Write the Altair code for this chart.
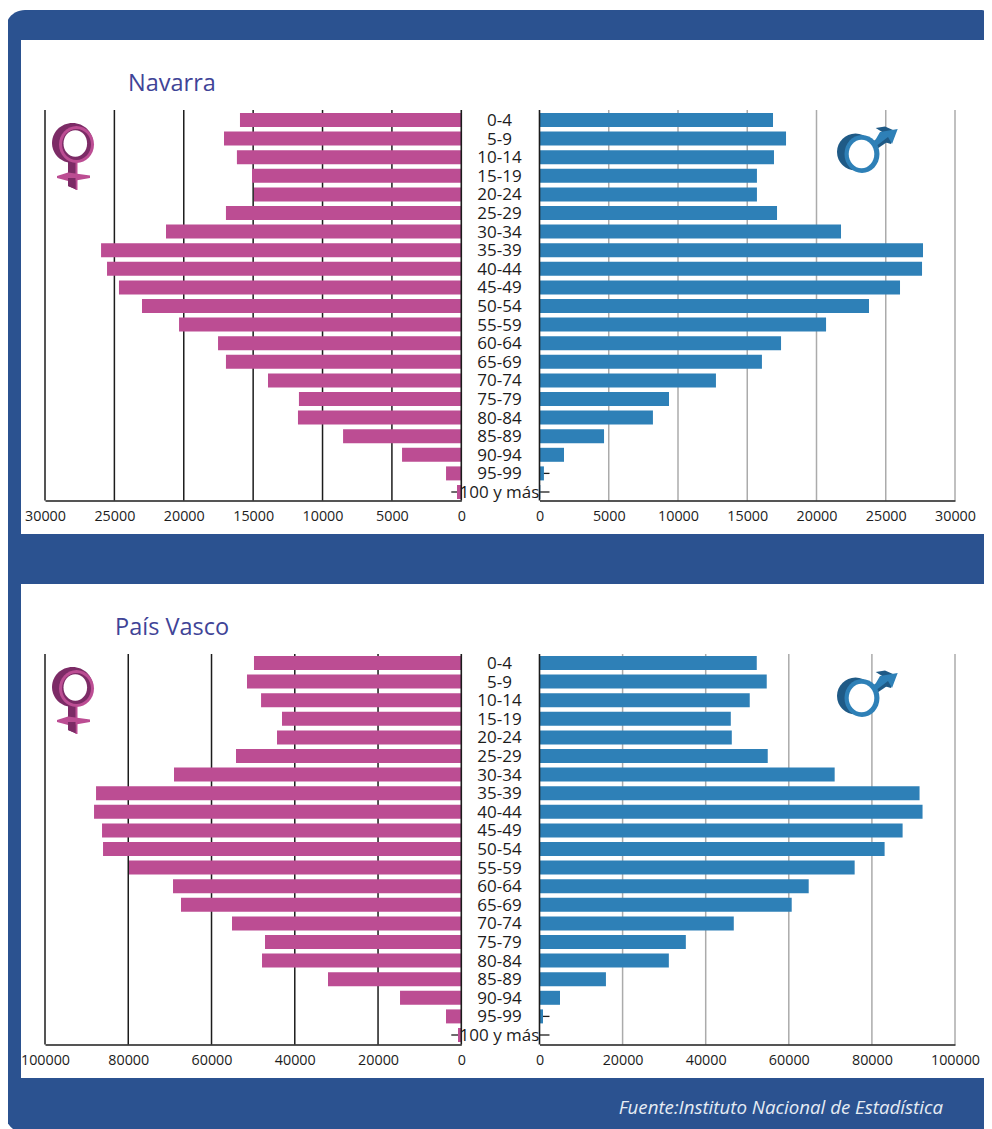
import altair as alt
import pandas as pd

ages = ["0-4","5-9","10-14","15-19","20-24","25-29","30-34","35-39","40-44","45-49","50-54",
        "55-59","60-64","65-69","70-74","75-79","80-84","85-89","90-94","95-99","100 y más"]
nav_mujeres = [15950,17100,16170,15080,14940,16960,21280,25960,25530,24670,23010,
               20340,17530,16960,13930,11700,11770,8520,4270,1100,310]
nav_hombres = [16860,17800,16930,15700,15700,17150,21770,27690,27620,26030,23790,
               20690,17440,16060,12740,9350,8190,4660,1770,320,60]
pv_mujeres = [49800,51480,48100,43070,44270,54120,69010,87740,88220,86300,86060,
              79820,69250,67330,55080,47150,47870,32020,14720,3680,790]
pv_hombres = [52290,54690,50600,46040,46280,54930,71040,91470,92190,87390,83060,
              75850,64790,60700,46760,35220,31130,15990,4930,840,120]
nav_ticks = [0,5000,10000,15000,20000,25000,30000]
pv_ticks = [0,20000,40000,60000,80000,100000]

OX, OY = 8, 8  # page margin
W, H = 976, 1121
FONT = "Open Sans"
BLUE, PINK, BAR, INK = "#2B5290", "#BC4D93", "#2E80B7", "#1c1c1c"
GRID_R = "#ababab"
PINK_D, BAR_D = "#7C2B66", "#1F5A86"
LX = (461.3 - OX, 45 - OX)
RX = (539.5 - OX, 955 - OX)


def deco_rect(x0, x1, y0, y1, color, radius=0):
    return alt.Chart().mark_rect(color=color, cornerRadius=radius, opacity=1).encode(
        x=alt.value(x0 - OX), x2=alt.value(x1 - OX), y=alt.value(y0 - OY), y2=alt.value(y1 - OY))


def ell(cx, cy, rx, ry):
    return f"M{cx-rx},{cy}a{rx},{ry} 0 1,0 {2*rx},0a{rx},{ry} 0 1,0 {-2*rx},0Z"


def shape(path, color, dy):
    # size 4 makes one path unit equal to one pixel
    return alt.Chart().mark_point(shape=path, filled=True, size=4, color=color, opacity=1, strokeWidth=0).encode(
        x=alt.value(-OX), y=alt.value(dy - OY))


def venus(dy):
    return [
        shape("M68,162L77,162L77,190L68,186Z", PINK_D, dy),
        shape("M57,176L68,172.5L90,175.5L90,178L70,181.5L57,178Z", PINK, dy),
        shape("M75.5,163L77.5,163L77.5,190L75.5,190Z", PINK, dy),
        shape("M68,178L75.5,178L75.5,189L68,186Z", PINK_D, dy),
        shape(ell(72.5, 143, 20.5, 20), PINK_D, dy),
        shape(ell(76.5, 144.5, 17.5, 18.5), PINK, dy),
        shape(ell(76.5, 144.5, 14.5, 15.5), PINK_D, dy),
        shape(ell(75.3, 143.5, 11.8, 13.2), "#ffffff", dy),
    ]


def mars(dy):
    return [
        shape("M869,144L886,133L890,140L874,151Z", BAR_D, dy),
        shape("M875.7,128L885,126.5L893,130L891,144L884,142L887,135Z", BAR_D, dy),
        shape("M880,132L897.7,129L892,144L888,137L875,147L873,144Z", BAR, dy),
        shape(ell(855.5, 152, 18.5, 18.5), BAR_D, dy),
        shape(ell(862, 154, 17.5, 19), BAR, dy),
        shape(ell(861.5, 154, 12.8, 14.3), "#ffffff", dy),
    ]


def panel(mujeres, hombres, ticks, y_top, y_axis, title, title_x, title_base):
    layers = []
    tmax = ticks[-1]
    yscale = alt.Scale(type="band", domain=ages, range=[y_top - OY, y_top + 390.6 - OY])
    ypos = alt.Y("edad:N", scale=yscale, axis=None, title=None)
    grid_y0, grid_y1 = y_axis - 390.5 - OY, y_axis - OY
    stub = tmax * 10 / 416
    for vals, rng, grid_col, col in (
        (mujeres, LX, INK, PINK),
        (hombres, RX, GRID_R, BAR),
    ):
        xscale = alt.Scale(domain=[0, tmax], range=list(rng), nice=False, zero=True)
        df = pd.DataFrame({"edad": ages, "poblacion": vals})
        tk = pd.DataFrame({"v": ticks})
        st = pd.DataFrame({"edad": ages, "a": [0] * len(ages), "b": [stub] * len(ages)})
        layers.append(alt.Chart(tk).transform_filter("datum.v > 0").mark_rule(color=grid_col, strokeWidth=1.5).encode(
            x=alt.X("v:Q", scale=xscale, axis=None, title=None),
            y=alt.value(grid_y0), y2=alt.value(grid_y1)))
        layers.append(alt.Chart(st).mark_rule(color=INK, strokeWidth=1.3).encode(
            x=alt.X("a:Q", scale=xscale, axis=None, title=None), x2="b:Q", y=ypos))
        layers.append(alt.Chart(df).mark_bar(color=col, size=14, opacity=1).encode(
            x=alt.X("poblacion:Q", scale=xscale, title=None, axis=alt.Axis(
                orient="bottom", offset=y_axis - OY - H, values=ticks, grid=False, ticks=False,
                domainColor=INK, domainWidth=1.6, labelFont=FONT, labelFontSize=14.3,
                labelColor=INK, labelPadding=9, labelOverlap=False, labelFlush=False,
                labelBound=False, format="d", zindex=1)),
            y=ypos))
        layers.append(alt.Chart(pd.DataFrame({"v": [0]})).mark_rule(color=INK, strokeWidth=1.6).encode(
            x=alt.X("v:Q", scale=xscale, axis=None, title=None),
            y=alt.value(grid_y0), y2=alt.value(grid_y1)))
    layers.append(alt.Chart(pd.DataFrame({"edad": ages})).mark_text(
        font=FONT, fontSize=17, color=INK, align="center", baseline="middle", dy=1).encode(
        x=alt.value(499.5 - OX), y=ypos, text="edad:N"))
    layers.append(alt.Chart().mark_text(text=title, font=FONT, fontSize=23.5, color="#3F4497",
                                        align="left", baseline="alphabetic").encode(
        x=alt.value(title_x - OX), y=alt.value(title_base - OY)))
    return layers


layers = [
    deco_rect(5, 1000, 10, 1133, BLUE, 20),
    deco_rect(21, 989.5, 40, 534, "#ffffff"),
    deco_rect(21, 989.5, 584, 1078, "#ffffff"),
]
layers += panel(nav_mujeres, nav_hombres, nav_ticks, 110.7, 500.5, "Navarra", 128, 91)
layers += panel(pv_mujeres, pv_hombres, pv_ticks, 653.7, 1044.5, "País Vasco", 115, 635)
for dy in (0, 544):
    layers += venus(dy) + mars(dy)
layers.append(alt.Chart().mark_text(text="Fuente:Instituto Nacional de Estadística", font=FONT, fontSize=18.7,
                                    fontStyle="italic", color="#E6ECF4", align="right", baseline="alphabetic").encode(
    x=alt.value(943 - OX), y=alt.value(1114 - OY)))

chart = alt.layer(*layers).resolve_scale(x="independent", y="independent").properties(
    width=W, height=H, padding=0, autosize="none", background="#ffffff"
).configure_view(stroke=None)

chart.save("out.html", embed_options={"renderer": "svg", "actions": False})
